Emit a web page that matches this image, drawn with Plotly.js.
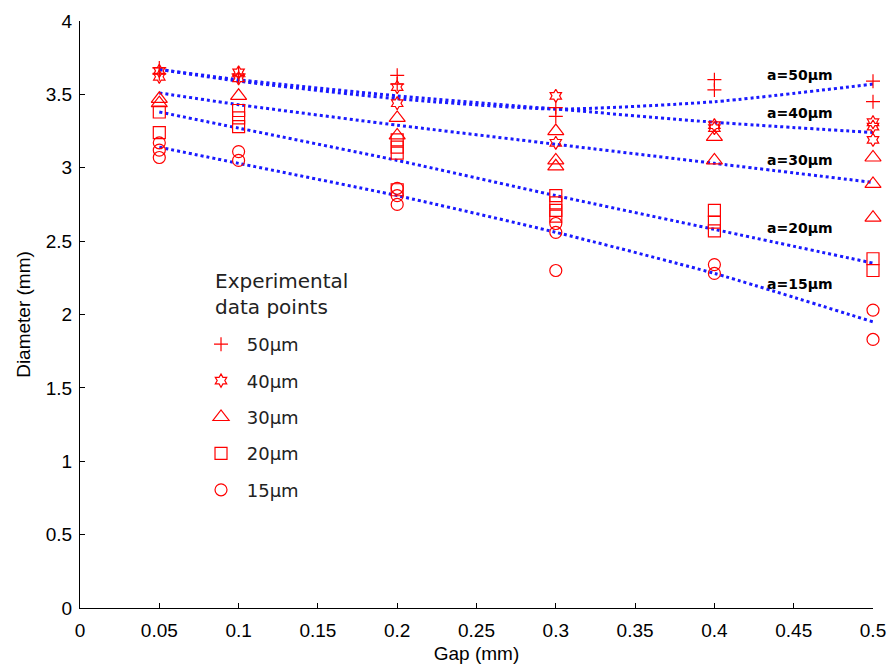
<!DOCTYPE html>
<html>
<head>
<meta charset="utf-8">
<script src="https://cdn.plot.ly/plotly-3.0.1.min.js"></script>
<style>
  html, body { margin: 0; padding: 0; background: #fff; }
  #chart { width: 889px; height: 668px; }
</style>
</head>
<body>
<div id="chart"></div>
<script>
// Gap values (mm) at which fitted curves are evaluated
const fitGap = [0.05, 0.1, 0.2, 0.3, 0.4, 0.5];

// Fitted diameter curves (mm) for each abrasive size
const fit50 = [3.67, 3.59, 3.47, 3.40, 3.45, 3.57];
const fit40 = [3.67, 3.60, 3.49, 3.40, 3.31, 3.24];
const fit30 = [3.51, 3.43, 3.29, 3.16, 3.03, 2.90];
const fit20 = [3.38, 3.27, 3.05, 2.81, 2.58, 2.35];
const fit15 = [3.14, 3.03, 2.81, 2.56, 2.28, 1.95];

// Experimental data points
const gap50 = [0.05, 0.05, 0.1, 0.1, 0.2, 0.2, 0.3, 0.3, 0.4, 0.4, 0.5, 0.5];
const dia50 = [3.68, 3.64, 3.64, 3.62, 3.63, 3.57, 3.41, 3.35, 3.60, 3.53, 3.59, 3.45];

const gap40 = [0.05, 0.05, 0.1, 0.1, 0.2, 0.2, 0.3, 0.3, 0.4, 0.4, 0.5, 0.5, 0.5];
const dia40 = [3.66, 3.62, 3.65, 3.61, 3.55, 3.44, 3.49, 3.17, 3.29, 3.27, 3.31, 3.28, 3.19];

const gap30 = [0.05, 0.05, 0.1, 0.2, 0.2, 0.3, 0.3, 0.3, 0.4, 0.4, 0.5, 0.5, 0.5];
const dia30 = [3.47, 3.44, 3.49, 3.34, 3.22, 3.25, 3.05, 3.01, 3.21, 3.05, 3.07, 2.89, 2.66];

const gap20 = [0.05, 0.05, 0.1, 0.1, 0.1, 0.2, 0.2, 0.2, 0.2, 0.3, 0.3, 0.3, 0.3, 0.4, 0.4, 0.4, 0.5, 0.5];
const dia20 = [3.38, 3.24, 3.39, 3.34, 3.28, 3.19, 3.14, 3.10, 2.85, 2.81, 2.76, 2.71, 2.67, 2.71, 2.63, 2.57, 2.38, 2.30];

const gap15 = [0.05, 0.05, 0.05, 0.1, 0.1, 0.2, 0.2, 0.2, 0.3, 0.3, 0.3, 0.4, 0.4, 0.5, 0.5];
const dia15 = [3.17, 3.12, 3.07, 3.11, 3.05, 2.86, 2.81, 2.75, 2.62, 2.56, 2.30, 2.34, 2.28, 2.03, 1.83];

const seriesNames = ['50μm', '40μm', '30μm', '20μm', '15μm'];
const curveLabels = ['a=50μm', 'a=40μm', 'a=30μm', 'a=20μm', 'a=15μm'];

const RED = '#ff0000';
const BLUE = '#1a1aff';
const AXIS_FONT = 'Liberation Sans, Arial, sans-serif';

function fitTrace(y) {
  return {
    x: fitGap, y: y, type: 'scatter', mode: 'lines',
    line: { color: BLUE, width: 3, dash: 'dot', shape: 'spline', smoothing: 0.6 },
    showlegend: false, hoverinfo: 'skip'
  };
}

function dataTrace(x, y, name, symbol, size, group) {
  return {
    x: x, y: y, type: 'scatter', mode: 'markers', name: ' ' + name,
    legendgroup: group, cliponaxis: false,
    marker: { symbol: symbol, size: size, color: RED, line: { color: RED, width: 1.2 } }
  };
}

const traces = [
  fitTrace(fit50), fitTrace(fit40), fitTrace(fit30), fitTrace(fit20), fitTrace(fit15),
  dataTrace(gap50, dia50, seriesNames[0], 'cross-thin-open', 10, 'g1'),
  dataTrace(gap40, dia40, seriesNames[1], 'hexagram-open', 10, 'g2'),
  dataTrace(gap30, dia30, seriesNames[2], 'triangle-up-open', 14, 'g3'),
  dataTrace(gap20, dia20, seriesNames[3], 'square-open', 12, 'g4'),
  dataTrace(gap15, dia15, seriesNames[4], 'circle-open', 12, 'g5')
];

// Curve labels placed at the right end of each fitted curve
const labelY = [3.63, 3.37, 3.05, 2.59, 2.21];
const annotations = curveLabels.map((t, i) => ({
  x: 0.432, y: labelY[i], xref: 'x', yref: 'y', text: t, showarrow: false,
  xanchor: 'left', yanchor: 'middle',
  font: { family: 'DejaVu Sans', size: 14, color: '#000', weight: 'bold' }
}));

// Heading above the legend entries
annotations.push({
  x: 0.1677, y: 0.5349, xref: 'paper', yref: 'paper',
  text: 'Experimental<br>data points', showarrow: false,
  xanchor: 'left', yanchor: 'middle', align: 'left',
  font: { family: 'DejaVu Sans', size: 20, color: '#222' }
});

const tickFont = { family: AXIS_FONT, size: 19, color: '#000' };

const layout = {
  width: 889, height: 668,
  margin: { l: 80, r: 16, t: 21, b: 60 },
  paper_bgcolor: '#fff', plot_bgcolor: '#fff',
  showlegend: true,
  legend: {
    x: 0.1526, y: 0.4804, xanchor: 'left', yanchor: 'top',
    bgcolor: 'rgba(0,0,0,0)',
    traceorder: 'grouped', tracegroupgap: 10,
    font: { family: 'DejaVu Sans', size: 18, color: '#222' }
  },
  xaxis: {
    range: [0, 0.5], tickvals: [0, 0.05, 0.1, 0.15, 0.2, 0.25, 0.3, 0.35, 0.4, 0.45, 0.5],
    ticktext: ['0', '0.05', '0.1', '0.15', '0.2', '0.25', '0.3', '0.35', '0.4', '0.45', '0.5'],
    ticks: 'inside', ticklen: 5, tickcolor: '#000', showline: true, linecolor: '#000', linewidth: 1,
    showgrid: false, zeroline: false, tickfont: tickFont, ticklabelstandoff: 5,
    title: { text: 'Gap (mm)', font: { family: AXIS_FONT, size: 19, color: '#000' }, standoff: 6 }
  },
  yaxis: {
    range: [0, 4], tickvals: [0, 0.5, 1, 1.5, 2, 2.5, 3, 3.5, 4],
    ticks: 'inside', ticklen: 5, tickcolor: '#000', showline: true, linecolor: '#000', linewidth: 1,
    showgrid: false, zeroline: false, tickfont: tickFont, ticklabelstandoff: 3,
    title: { text: 'Diameter (mm)', font: { family: AXIS_FONT, size: 19, color: '#000' }, standoff: 10 }
  },
  annotations: annotations
};

Plotly.newPlot('chart', traces, layout, { displayModeBar: false, staticPlot: true });
</script>
</body>
</html>
